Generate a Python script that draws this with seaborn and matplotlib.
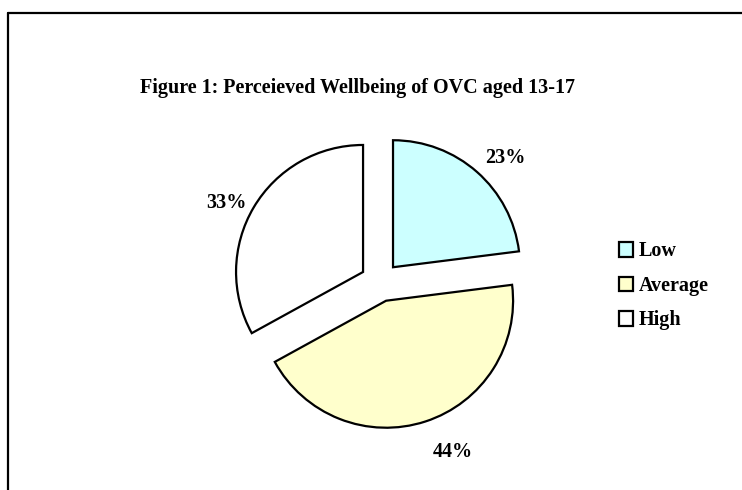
import matplotlib
matplotlib.use("Agg")
import matplotlib.pyplot as plt
from matplotlib.lines import Line2D
from matplotlib.patches import Patch
import seaborn as sns

# data
categories = ["Low", "Average", "High"]
shares = [23, 44, 33]
slice_colors = ["#CCFFFF", "#FFFFCC", "#FFFFFF"]
title = "Figure 1: Perceieved Wellbeing of OVC aged 13-17"

sns.set_theme(style="white")
plt.rcParams["font.family"] = ["Liberation Serif", "DejaVu Serif"]
plt.rcParams["text.color"] = "black"

W, H = 742, 490
FS = 14.5
fig = plt.figure(figsize=(W / 100, H / 100), dpi=100)
fig.patch.set_facecolor("white")

# pie centre ~ (380, 282) px, radius ~127 px
cx, cy, r = 380, 282, 127
half = 1.6
box = half * r
ax = fig.add_axes([(cx - box) / W, (H - cy - box) / H, 2 * box / W, 2 * box / H])

wedges, _, pct_texts = ax.pie(
    shares,
    colors=slice_colors,
    startangle=90,
    counterclock=False,
    explode=[0.155] * len(shares),
    autopct="%.0f%%",
    pctdistance=1.25,
    wedgeprops=dict(edgecolor="black", linewidth=1.6),
    textprops=dict(fontsize=FS, fontweight="bold", color="black"),
)

# small nudges so the labels sit where Excel put them (in radius units)
nudges = [(0.055, -0.08), (0.14, 0.0), (0.0, -0.095)]
for t, (dx, dy) in zip(pct_texts, nudges):
    x, y = t.get_position()
    t.set_position((x + dx, y + dy))

ax.set_xlim(-half, half)
ax.set_ylim(-half, half)
ax.set_aspect("equal", adjustable="box")
ax.axis("off")

fig.text(358 / W, 1 - 88 / H, title, ha="center", va="center",
         fontsize=FS, fontweight="bold", color="black")

handles = [Patch(facecolor=c, edgecolor="black", linewidth=1.6) for c in slice_colors]
leg = fig.legend(
    handles, categories,
    loc="center left",
    bbox_to_anchor=(619 / W, 1 - 286 / H),
    frameon=False,
    borderpad=0,
    borderaxespad=0,
    handlelength=0.7,
    handleheight=0.7,
    handletextpad=0.3,
    labelspacing=0.72,
    prop=dict(size=FS, weight="bold"),
)
for t in leg.get_texts():
    t.set_color("black")

# chart border (only the top and left edges fall inside the image)
x0 = 8 / W
ytop = 1 - 13 / H
fig.add_artist(Line2D([x0, x0], [0, ytop], color="black", linewidth=1.6))
fig.add_artist(Line2D([x0, 1], [ytop, ytop], color="black", linewidth=1.6))

fig.savefig("out.png", dpi=100, facecolor="white")
